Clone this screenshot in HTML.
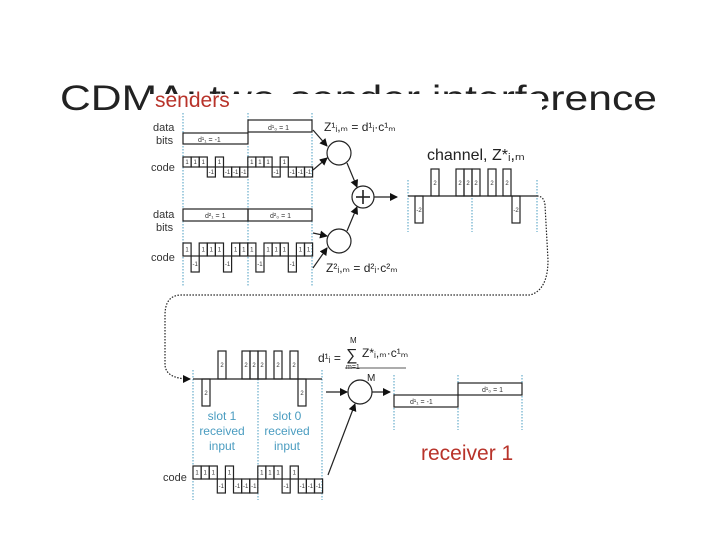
<!DOCTYPE html>
<html><head><meta charset="utf-8"><style>
body{margin:0;background:#fff;width:720px;height:540px;overflow:hidden}
svg{display:block}
text{font-family:"Liberation Sans",sans-serif}
</style></head><body>
<svg id="s" width="720" height="540" viewBox="0 0 720 540" xmlns="http://www.w3.org/2000/svg">
<defs><marker id="a" markerWidth="8" markerHeight="8" refX="7" refY="4" orient="auto" markerUnits="userSpaceOnUse"><path d="M0,0 L8,4 L0,8 z" fill="#111"/></marker></defs>
<text x="60" y="110" font-size="35" fill="#222" textLength="597" lengthAdjust="spacingAndGlyphs" font-weight="300">CDMA: two-sender interference</text>
<rect x="150" y="94" width="392" height="410" fill="#fff"/>
<text x="155" y="107" font-size="21" fill="#b8332a">senders</text>
<g id="g" stroke="#222" stroke-width="1.2" fill="none"></g>
<g font-size="11" fill="#333">
<text x="153" y="131">data</text><text x="156" y="144">bits</text><text x="151" y="171">code</text>
<text x="153" y="218">data</text><text x="156" y="231">bits</text><text x="151" y="261">code</text>
<text x="163" y="481">code</text>
</g>
<g font-size="7" fill="#333">
<text x="198" y="142">d¹₁ = -1</text><text x="268" y="130">d¹₀ = 1</text>
<text x="205" y="218">d²₁ = 1</text><text x="270" y="218">d²₀ = 1</text>
<text x="410" y="404">d¹₁ = -1</text><text x="482" y="392">d¹₀ = 1</text>
</g>
<g font-size="12" fill="#222">
<text x="324" y="131">Z¹ᵢ,ₘ = d¹ᵢ·c¹ₘ</text>
<text x="326" y="272">Z²ᵢ,ₘ = d²ᵢ·c²ₘ</text>
<text x="427" y="160" font-size="16">channel, Z*ᵢ,ₘ</text>
<text x="318" y="362">d¹ᵢ =</text>
<text x="346" y="360" font-size="16">∑</text>
<text x="350" y="343" font-size="8">M</text>
<text x="346" y="369" font-size="7">m=1</text>
<text x="362" y="357">Z*ᵢ,ₘ·c¹ₘ</text>
<text x="367" y="381" font-size="10">M</text>
</g>
<line x1="345" y1="368" x2="406" y2="368" stroke="#222" stroke-width="0.8"/>
<g font-size="12" fill="#4a9cc0" text-anchor="middle">
<text x="222" y="420">slot 1</text><text x="222" y="435">received</text><text x="222" y="450">input</text>
<text x="287" y="420">slot 0</text><text x="287" y="435">received</text><text x="287" y="450">input</text>
</g>
<text x="421" y="460" font-size="21" fill="#b8332a">receiver 1</text>
</svg>
<script>
var g=document.getElementById('g'),NS='http://www.w3.org/2000/svg';
function el(t,a){var e=document.createElementNS(NS,t);for(var k in a)e.setAttribute(k,a[k]);g.appendChild(e);return e}
function tx(x,y,s,sz){var e=el('text',{x:x,y:y,'font-size':sz||6,fill:'#333',stroke:'none','text-anchor':'middle'});e.textContent=s}
function vd(x,y1,y2){el('line',{x1:x,y1:y1,x2:x,y2:y2,stroke:'#4a9cc0','stroke-dasharray':'1.5,1.5','stroke-width':1})}
[183,248,312].forEach(function(x){vd(x,113,287);vd(x-(x==183?-10:x==248?-10:-10),370,500)});
[408,472,537].forEach(function(x){vd(x,180,232)});
[394,458,522].forEach(function(x){vd(x,375,430)});
function code(x0,base,hi,lo,p,w){p.forEach(function(v,i){var x=x0+i*w;if(v>0){el('rect',{x:x,y:hi,width:w,height:base-hi});tx(x+w/2,hi+(base-hi)/2+2,'1')}else{el('rect',{x:x,y:base,width:w,height:lo-base});tx(x+w/2,base+(lo-base)/2+2,'-1')}})}
var c1=[1,1,1,-1,1,-1,-1,-1,1,1,1,-1,1,-1,-1,-1],c2=[1,-1,1,1,1,-1,1,1,1,-1,1,1,1,-1,1,1];
code(183,167,157,177,c1,8.1);
code(183,256,243,272,c2,8.1);
code(193,479,466,493,c1,8.1);
el('rect',{x:183,y:133,width:65,height:11});el('rect',{x:248,y:120,width:64,height:12});
el('rect',{x:183,y:209,width:65,height:12});el('rect',{x:248,y:209,width:64,height:12});
el('rect',{x:394,y:395,width:64,height:12});el('rect',{x:458,y:383,width:64,height:12});
el('line',{x1:408,y1:196,x2:537,y2:196});
[[415,-1],[431,1],[456,1],[464,1],[472,1],[488,1],[503,1],[512,-1]].forEach(function(b){if(b[1]>0){el('rect',{x:b[0],y:169,width:8,height:27});tx(b[0]+4,185,'2')}else{el('rect',{x:b[0],y:196,width:8,height:27});tx(b[0]+4,212,'-2')}});
el('line',{x1:193,y1:379,x2:322,y2:379});
[[202,-1],[218,1],[242,1],[250,1],[258,1],[274,1],[290,1],[298,-1]].forEach(function(b){if(b[1]>0){el('rect',{x:b[0],y:351,width:8,height:28});tx(b[0]+4,367,'2')}else{el('rect',{x:b[0],y:379,width:8,height:27});tx(b[0]+4,395,'2')}});
el('circle',{cx:339,cy:153,r:12});el('circle',{cx:339,cy:241,r:12});el('circle',{cx:363,cy:197,r:11});
el('line',{x1:356,y1:197,x2:370,y2:197,'stroke-width':1.6});el('line',{x1:363,y1:190,x2:363,y2:204,'stroke-width':1.6});
el('circle',{cx:360,cy:392,r:12});
function ar(a,b,c,d){el('line',{x1:a,y1:b,x2:c,y2:d,'marker-end':'url(#a)'})}
ar(313,130,327,146);ar(313,170,327,158);ar(313,233,327,236);ar(313,268,327,248);
ar(347,163,357,187);ar(347,231,357,207);ar(374,197,397,197);
ar(326,392,347,392);ar(372,392,390,392);ar(328,475,355,404);
el('path',{d:'M537,196 Q544,196 545,205 L548,260 Q548,290 530,295 L180,295 Q165,296 165,315 L165,365 Q166,379 190,379',stroke:'#222','stroke-dasharray':'1.5,1.5','marker-end':'url(#a)'});
</script>
</body></html>
